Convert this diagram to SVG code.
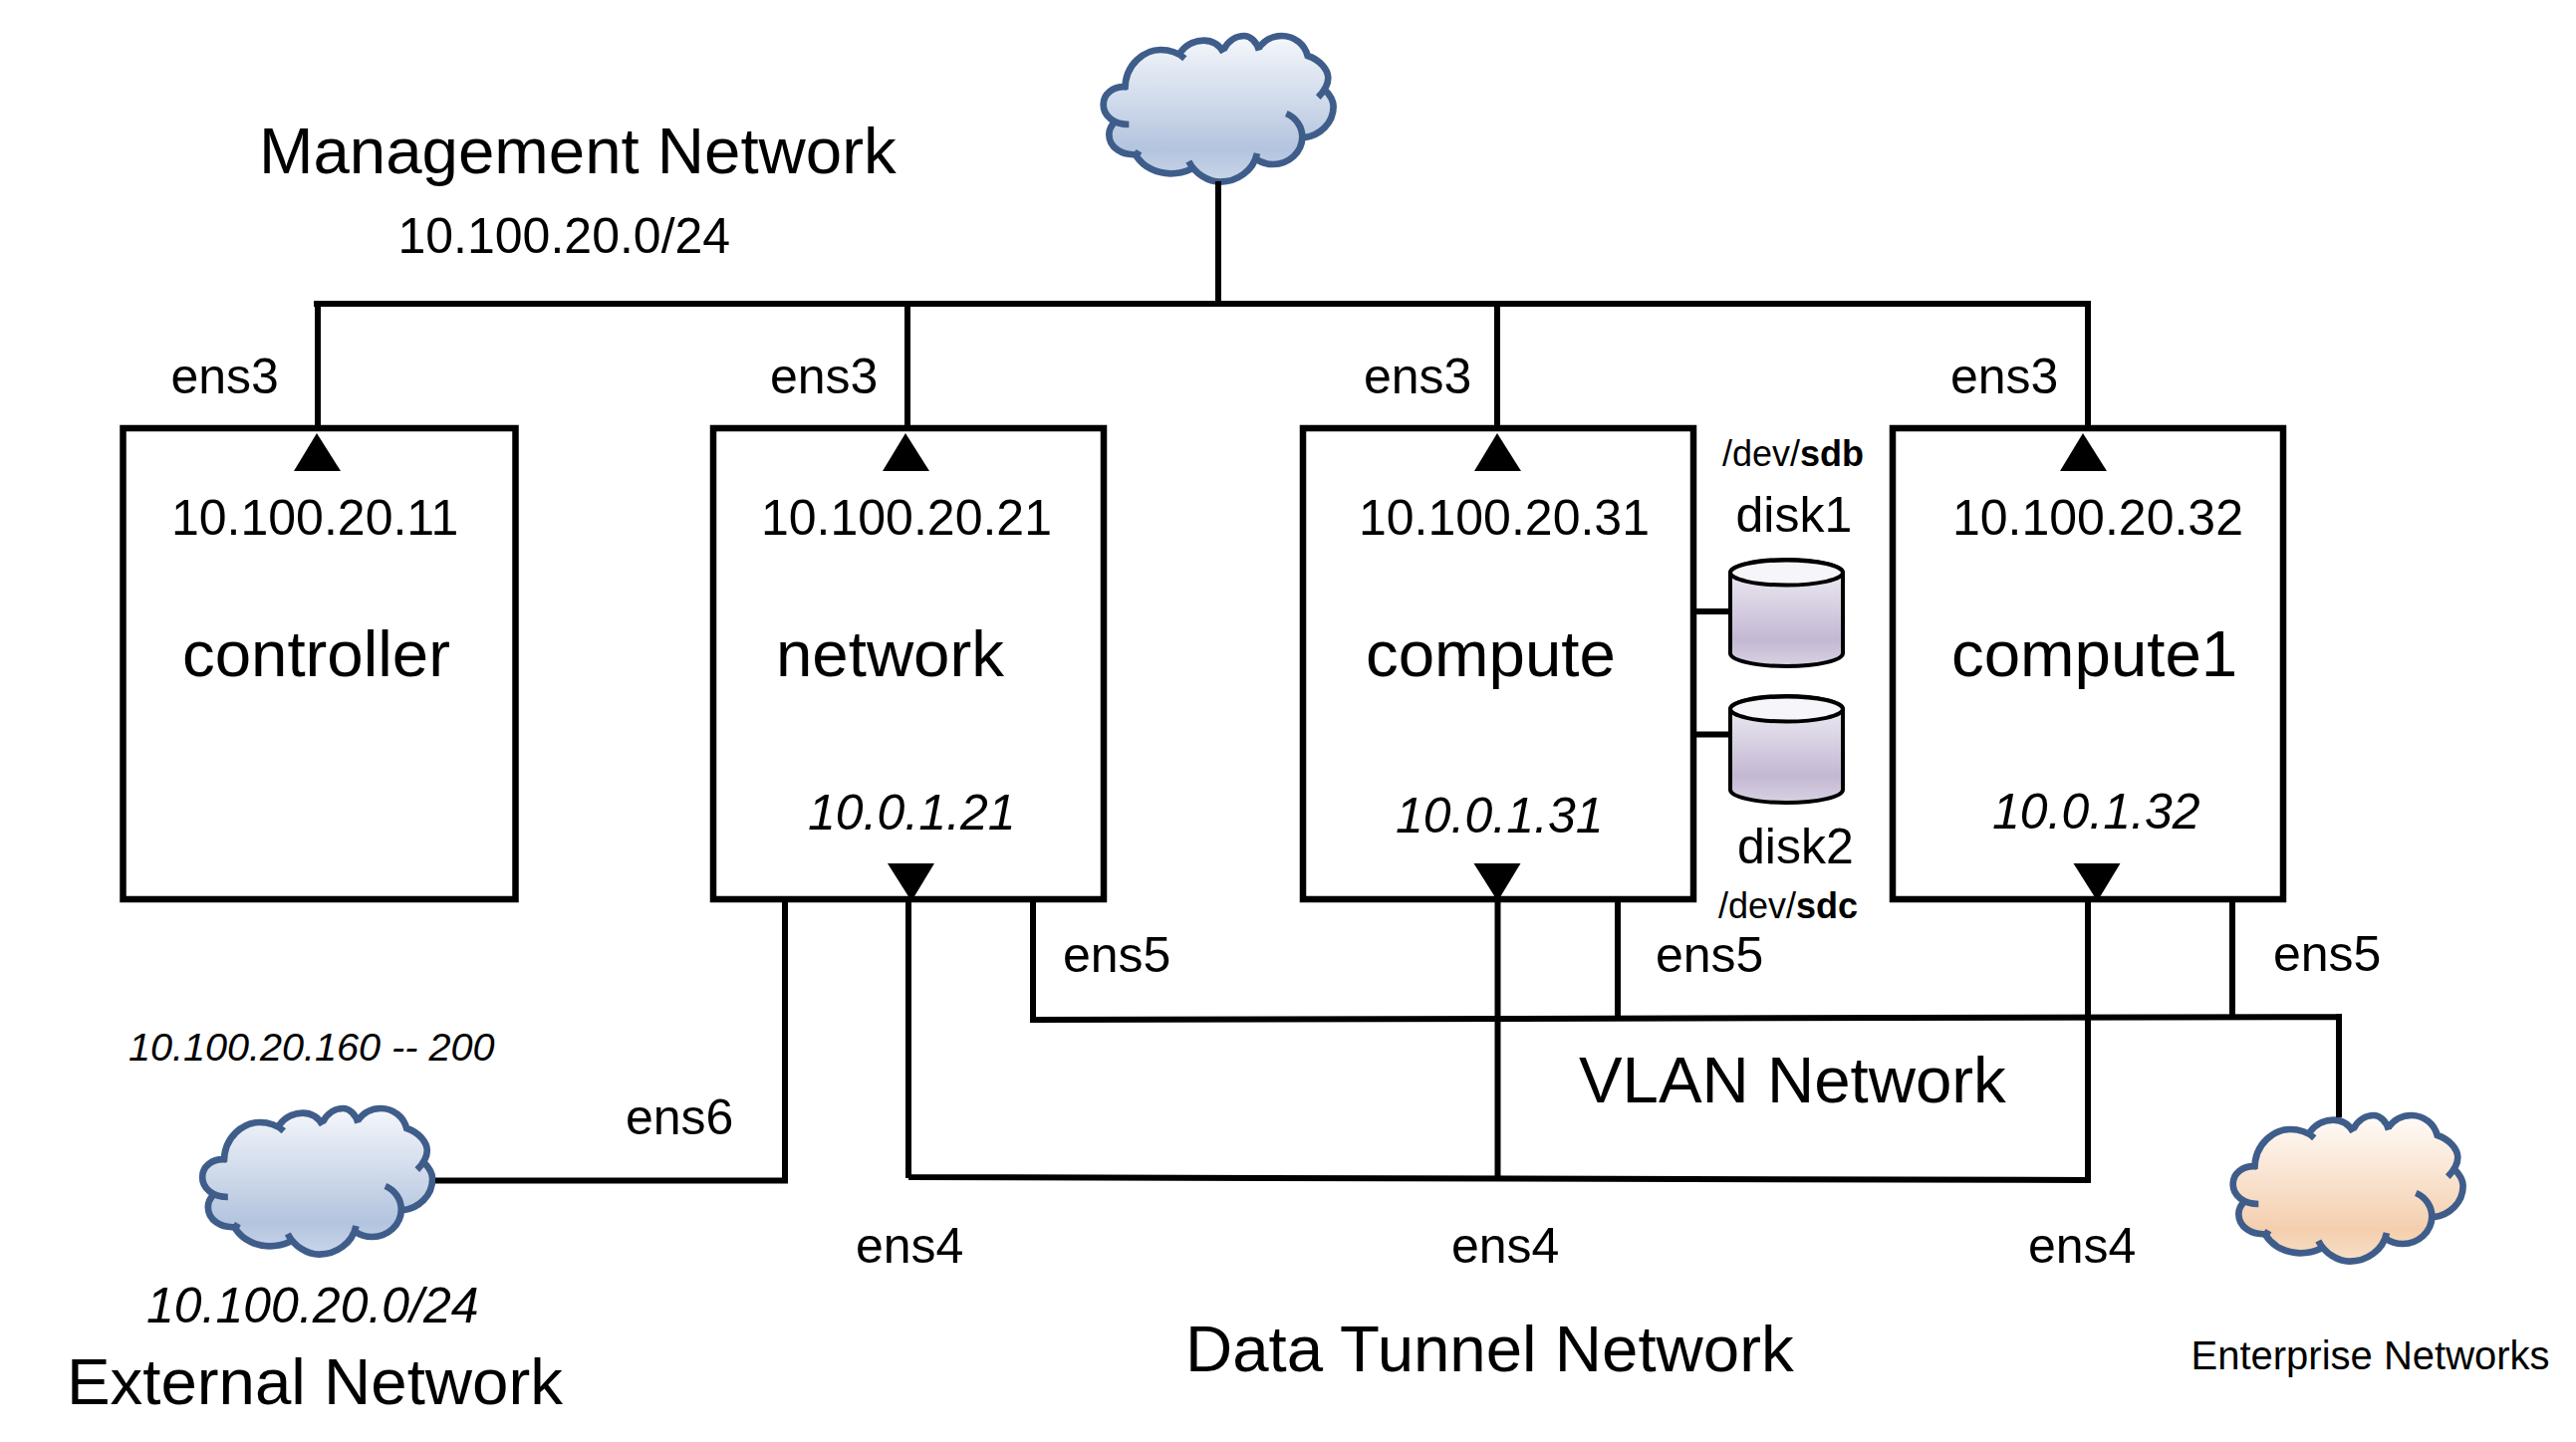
<svg xmlns="http://www.w3.org/2000/svg" xmlns:xlink="http://www.w3.org/1999/xlink" width="2586" height="1448" viewBox="0 0 2586 1448">
<style>
text{font-family:"Liberation Sans",Arial,sans-serif;fill:#000}
.xl{font-size:65.400px}.m{font-size:50px}.s{font-size:36px}.i{font-style:italic}
.box{fill:#fff;stroke:#000;stroke-width:6.500}
.cn{fill:none;stroke:#000;stroke-width:6}
.cl{fill:none;stroke:#3f5d8a;stroke-width:20;stroke-linecap:butt}
.dk{stroke:#000;stroke-width:4;fill:url(#dg)}
</style>
<defs>
<linearGradient id="bg" x1="0" y1="0" x2="0" y2="1"><stop offset="0" stop-color="#f5f7fb"/><stop offset=".78" stop-color="#b3c4de"/><stop offset="1" stop-color="#c9d6e8"/></linearGradient>
<linearGradient id="og" x1="0" y1="0" x2="0" y2="1"><stop offset="0" stop-color="#fffbf8"/><stop offset=".78" stop-color="#f4cfae"/><stop offset="1" stop-color="#f8dfc8"/></linearGradient>
<linearGradient id="dg" x1="0" y1="0" x2="0" y2="1"><stop offset="0" stop-color="#f3f1f7"/><stop offset=".75" stop-color="#c3b8d3"/><stop offset="1" stop-color="#d8d2e2"/></linearGradient>
<g id="cloud" transform="scale(.3333)">
<path d="M238,262C238,190 300,150 345,150C370,150 390,155 405,158C425,130 455,122 475,122C500,122 522,135 535,150C550,120 575,108 597,108C615,108 635,125 640,145C660,118 685,108 710,108C750,108 780,135 788,168C825,180 850,210 850,235C850,248 846,258 838,268C855,285 866,300 866,320C866,370 825,410 775,415C772,460 730,495 685,495C665,495 645,488 632,478C620,520 575,548 525,548C490,548 455,530 435,510C415,520 395,523 375,523C335,523 295,505 272,470C230,470 190,445 190,405C190,390 197,378 207,368C185,360 173,340 173,315C173,285 200,258 238,262Z"/>
<path class="cl" d="M238,270C238,190 300,150 345,150C375,150 400,160 418,176M405,158C425,130 455,122 475,122C500,122 522,135 535,158M535,150C550,120 575,108 597,108C615,108 635,125 642,152M640,145C660,118 685,108 710,108C750,108 780,135 788,168C825,180 850,210 850,235C850,255 838,275 820,293M838,268C855,285 866,300 866,320C866,370 825,410 775,415M724,342C755,355 772,385 772,412C772,460 730,495 685,495C665,495 645,488 632,478M636,462C625,515 575,548 525,548C490,548 450,525 430,486M436,510C415,520 395,523 375,523C335,523 295,505 272,470L280,455M275,465C230,470 190,445 190,405C190,390 197,378 207,368M250,375C205,375 173,350 173,315C173,285 200,258 245,262"/>
</g>
<g id="disk"><path class="dk" d="M0,13V94C0,101 25,107 56.500,107C88,107 113,101 113,94V13C113,6 88,0 56.500,0C25,0 0,6 0,13Z"/><ellipse cx="56.500" cy="13" rx="56.500" ry="12.500" fill="#f6f5f9" stroke="#000" stroke-width="4"/></g>
</defs>
<rect width="2586" height="1448" fill="#fff"/>

<g id="node-mgmt-cloud"><use xlink:href="#cloud" href="#cloud" x="1050" y="0" fill="url(#bg)"/></g>
<g id="node-ext-cloud"><use xlink:href="#cloud" href="#cloud" x="145.500" y="1077" fill="url(#bg)"/></g>
<g id="node-ent-cloud"><use xlink:href="#cloud" href="#cloud" x="2184" y="1084" fill="url(#og)"/></g>

<g id="node-controller">
<rect class="box" x="123.500" y="430" width="394" height="473"/>
<polygon points="318,435 342,473 295,473"/>
<text class="m" x="172" y="537">10.100.20.11</text>
<text class="xl" x="183" y="679">controller</text>
</g>
<g id="node-network">
<rect class="box" x="716" y="430" width="392" height="473"/>
<polygon points="909,435 933,473 886,473"/>
<polygon points="915,905 891,867 938,867"/>
<text class="m" x="764" y="537">10.100.20.21</text>
<text class="xl" x="779" y="679">network</text>
<text class="m i" x="811" y="833">10.0.1.21</text>
</g>
<g id="node-compute">
<rect class="box" x="1308" y="430" width="392" height="473"/>
<polygon points="1503,435 1527,473 1480,473"/>
<polygon points="1503.500,905 1479.500,867 1526.500,867"/>
<text class="m" x="1364" y="537">10.100.20.31</text>
<text class="xl" x="1371" y="679">compute</text>
<text class="m i" x="1401" y="836">10.0.1.31</text>
</g>
<g id="node-compute1">
<rect class="box" x="1900" y="430" width="392" height="473"/>
<polygon points="2091,435 2115,473 2068,473"/>
<polygon points="2105.500,905 2081.500,867 2128.500,867"/>
<text class="m" x="1960" y="537">10.100.20.32</text>
<text class="xl" x="1959" y="679">compute1</text>
<text class="m i" x="2000" y="832">10.0.1.32</text>
</g>
<g id="node-disk1"><use xlink:href="#disk" href="#disk" x="1737" y="562"/></g>
<g id="node-disk2"><use xlink:href="#disk" href="#disk" x="1737" y="699"/></g>

<g id="connectors">
<path class="cn" d="M315,305H2099M1223,182V305M319,305V430M911,305V430M1503,305V430M2096,305V430"/>
<path class="cn" d="M1700,614H1737M1700,737.500H1737"/>
<path class="cn" d="M437,1185.500H791M788,902V1188"/>
<path class="cn" d="M912,902V1183M912,1182L2099,1185M1503.500,902V1183M2096,902V1188"/>
<path class="cn" d="M1037,902V1027M1034,1024L2348,1021M1624,902V1023M2241,902V1022M2348,1018V1122"/>
</g>

<g id="labels">
<text class="xl" x="260" y="174">Management Network</text>
<text class="m" x="399.500" y="254">10.100.20.0/24</text>
<text class="m" x="171.500" y="395">ens3</text>
<text class="m" x="773" y="395">ens3</text>
<text class="m" x="1369" y="395">ens3</text>
<text class="m" x="1958" y="395">ens3</text>
<text class="s" x="1729" y="468">/dev/<tspan font-weight="bold">sdb</tspan></text>
<text class="m" x="1742.500" y="534">disk1</text>
<text class="m" x="1744" y="867">disk2</text>
<text class="s" x="1725" y="922">/dev/<tspan font-weight="bold">sdc</tspan></text>
<text class="m" x="1067" y="976">ens5</text>
<text class="m" x="1662" y="976">ens5</text>
<text class="m" x="2282" y="975">ens5</text>
<text class="m" x="628" y="1139">ens6</text>
<text class="m" x="859" y="1268">ens4</text>
<text class="m" x="1457" y="1268">ens4</text>
<text class="m" x="2036" y="1268">ens4</text>
<text class="xl" x="1585" y="1107">VLAN Network</text>
<text class="xl" x="1190" y="1377">Data Tunnel Network</text>
<text class="xl" x="67" y="1410">External Network</text>
<text class="m i" x="147" y="1328">10.100.20.0/24</text>
<text class="i" font-size="39.600" x="129" y="1065">10.100.20.160 -- 200</text>
<text font-size="40" x="2199.500" y="1375">Enterprise Networks</text>
</g>
</svg>
